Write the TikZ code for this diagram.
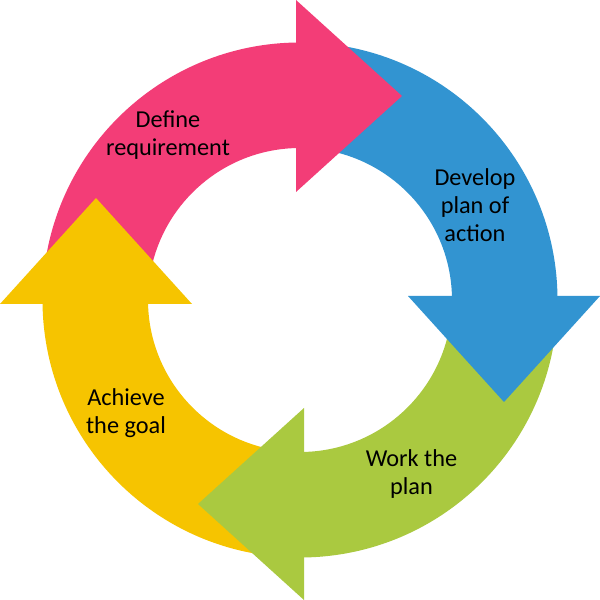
\documentclass[tikz,border=0pt]{standalone}
\usepackage{fontspec}
\setmainfont{Carlito}
\definecolor{pinkc}{RGB}{243,61,119}
\definecolor{bluec}{RGB}{50,148,209}
\definecolor{greenc}{RGB}{170,201,64}
\definecolor{yellowc}{RGB}{246,196,0}
\begin{document}
\begin{tikzpicture}[x=1pt,y=1pt,
  lbl/.style={font=\fontsize{24.3}{28.2}\selectfont, align=center, inner sep=0pt, anchor=center, text=black}]
\useasboundingbox (0,0) rectangle (600,600);
\fill[white] (0,0) rectangle (600,600);
\coordinate (C) at (300,300);
% bands
\fill[pinkc] (C) ++(180:257.5pt) arc[start angle=180,end angle=90,radius=257.5pt] -- ++(0,-105.5pt) arc[start angle=90,end angle=180,radius=152pt] -- cycle;
\fill[bluec] (C) ++(90:257.5pt) arc[start angle=90,end angle=0,radius=257.5pt] -- ++(-105.5pt,0) arc[start angle=0,end angle=90,radius=152pt] -- cycle;
\fill[greenc] (C) ++(0:257.5pt) arc[start angle=0,end angle=-90,radius=257.5pt] -- ++(0,105.5pt) arc[start angle=-90,end angle=0,radius=152pt] -- cycle;
\fill[yellowc] (C) ++(270:257.5pt) arc[start angle=270,end angle=180,radius=257.5pt] -- ++(105.5pt,0) arc[start angle=180,end angle=270,radius=152pt] -- cycle;
% arrowheads
\fill[pinkc] (296,600) -- (402,504) -- (296,408) -- cycle;
\fill[bluec] (408,304) -- (600,304) -- (504,198) -- cycle;
\fill[greenc] (304,192) -- (304,0) -- (198,96) -- cycle;
\fill[yellowc] (0,296) -- (192,296) -- (96,402) -- cycle;
% labels
\node[lbl] (define) at (168,465) {Define\\requirement};
\node[lbl] (develop) at (475,395) {Develop\\plan of\\action};
\node[lbl] (work) at (411.5,126) {Work the\\plan};
\node[lbl] (achieve) at (126,187) {Achieve\\the goal};
\end{tikzpicture}
\end{document}
